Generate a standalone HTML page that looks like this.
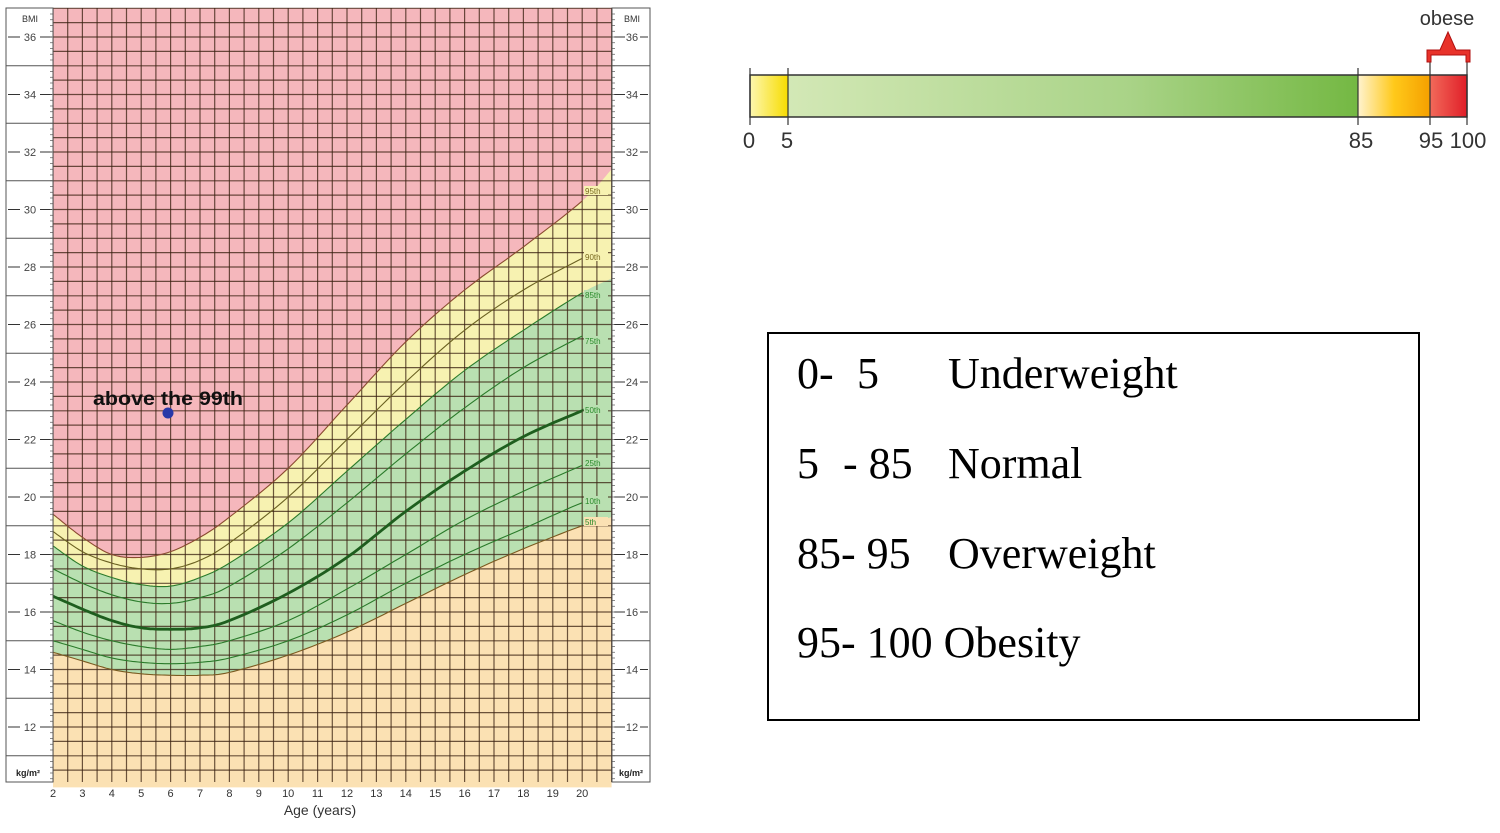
<!DOCTYPE html>
<html><head><meta charset="utf-8">
<style>
body{margin:0;background:#fff;width:1500px;height:833px;overflow:hidden;}
svg{position:absolute;left:0;top:0;}
</style></head>
<body>
<svg id="s" width="1500" height="833" viewBox="0 0 1500 833" xmlns="http://www.w3.org/2000/svg" font-family="Liberation Sans, sans-serif">
<defs>
<linearGradient id="gy" x1="0" x2="1"><stop offset="0" stop-color="#fdf7b0"/><stop offset="1" stop-color="#f7dc00"/></linearGradient>
<linearGradient id="gg" x1="0" x2="1"><stop offset="0" stop-color="#d3e8b6"/><stop offset="0.6" stop-color="#a9d387"/><stop offset="1" stop-color="#74b843"/></linearGradient>
<linearGradient id="go" x1="0" x2="1"><stop offset="0" stop-color="#fff3cf"/><stop offset="0.5" stop-color="#ffc91a"/><stop offset="1" stop-color="#f5a000"/></linearGradient>
<linearGradient id="gr" x1="0" x2="1"><stop offset="0" stop-color="#f26a5a"/><stop offset="1" stop-color="#e01e28"/></linearGradient>
</defs>
<g id="chart"></g>
<rect x="750" y="75" width="38" height="42" fill="url(#gy)"/>
<rect x="788" y="75" width="570" height="42" fill="url(#gg)"/>
<rect x="1358" y="75" width="72" height="42" fill="url(#go)"/>
<rect x="1430" y="75" width="37" height="42" fill="url(#gr)"/>
<rect x="750" y="75" width="717" height="42" fill="none" stroke="#333" stroke-width="1.5"/>
<g stroke="#333" stroke-width="1.2">
<line x1="750" y1="68" x2="750" y2="125"/><line x1="788" y1="68" x2="788" y2="125"/>
<line x1="1358" y1="68" x2="1358" y2="125"/><line x1="1430" y1="62" x2="1430" y2="125"/><line x1="1467" y1="62" x2="1467" y2="125"/>
</g>
<g font-size="22" fill="#333" text-anchor="middle">
<text x="749" y="148">0</text><text x="787" y="148">5</text><text x="1361" y="148">85</text><text x="1431" y="148">95</text><text x="1468" y="148">100</text>
<text x="1447" y="25" font-size="20">obese</text>
</g>
<path d="M1427,62 L1427,50 L1440,50 L1448,32 L1456,50 L1470,50 L1470,62 L1466,62 L1466,55 L1431,55 L1431,62 Z" fill="#e8322a" stroke="#b01010" stroke-width="1"/>
<rect x="768" y="333" width="651" height="387" fill="#fff" stroke="#000" stroke-width="2"/>
<g font-family="Liberation Serif, serif" font-size="44" fill="#000">
<text x="797" y="388">0-</text><text x="857" y="388">5</text><text x="948" y="388">Underweight</text>
<text x="797" y="478">5</text><text x="843" y="478">- 85</text><text x="948" y="478">Normal</text>
<text x="797" y="568">85- 95</text><text x="948" y="568">Overweight</text>
<text x="797" y="657">95- 100 Obesity</text>
</g>
</svg>
<script>
const g=document.getElementById('chart');
const X=a=>53+(a-2)*29.4, Y=b=>37+(36-b)*28.75;
const ages=[2,3,4,5,6,7,8,10,12,14,16,18,20,21];
const P={
p5:[14.6,14.3,14.0,13.85,13.8,13.8,13.9,14.5,15.3,16.3,17.3,18.2,19.0,19.3],
p10:[15.0,14.7,14.4,14.25,14.2,14.25,14.4,15.0,15.9,17.0,18.0,18.9,19.8,20.1],
p25:[15.7,15.3,15.0,14.8,14.7,14.8,15.0,15.7,16.8,18.0,19.2,20.2,21.1,21.5],
p50:[16.55,16.1,15.7,15.45,15.4,15.45,15.7,16.65,17.9,19.5,20.9,22.1,23.0,23.4],
p75:[17.5,17.0,16.6,16.35,16.3,16.5,16.9,18.2,19.8,21.5,23.1,24.5,25.6,26.1],
p85:[18.3,17.6,17.2,16.95,16.9,17.2,17.7,19.1,20.9,22.7,24.4,25.8,27.1,27.6],
p90:[18.8,18.1,17.7,17.5,17.5,17.8,18.4,20.0,22.0,24.0,25.8,27.2,28.3,28.8],
p95:[19.4,18.6,18.0,17.9,18.1,18.6,19.3,21.0,23.2,25.4,27.2,28.7,30.3,31.4]};
function pts(v){const o=[];for(let i=0;i<ages.length-1;i++){const p0=[ages[Math.max(i-1,0)],v[Math.max(i-1,0)]],p1=[ages[i],v[i]],p2=[ages[i+1],v[i+1]],p3=[ages[Math.min(i+2,ages.length-1)],v[Math.min(i+2,ages.length-1)]];
for(let t=0;t<1;t+=0.1){const t2=t*t,t3=t2*t;const f=(a,b,c,d)=>0.5*(2*b+(-a+c)*t+(2*a-5*b+4*c-d)*t2+(-a+3*b-3*c+d)*t3);o.push([X(f(p0[0],p1[0],p2[0],p3[0])),Y(f(p0[1],p1[1],p2[1],p3[1]))]);}}
o.push([X(21),Y(v[v.length-1])]);return o;}
const s=a=>a.map(p=>p[0].toFixed(1)+','+p[1].toFixed(1)).join(' ');
let h='';
h+=`<rect x="53" y="8" width="559" height="774" fill="#f5b7bc"/>`;
const pol=(top,bot,col)=>{const a=pts(top),b=pts(bot).reverse();return `<polygon points="${s(a)} ${s(b)}" fill="${col}"/>`;};
const low=P.p5.map(()=>9.9);
h+=pol(P.p95,P.p85,'#f7f2b1');
h+=pol(P.p85,P.p5,'#b9e0b1');
h+=pol(P.p5,low,'#fbe1b3');
let gl='';
for(let x=53;x<=613;x+=14.7)gl+=`<line x1="${x.toFixed(1)}" y1="8" x2="${x.toFixed(1)}" y2="782"/>`;
for(let b=37;b>=10;b-=0.5){const y=Y(b);if(y<8||y>782)continue;gl+=`<line x1="53" y1="${y.toFixed(1)}" x2="612" y2="${y.toFixed(1)}"/>`;}
h+=`<g stroke="#3a2010" stroke-opacity="0.75" stroke-width="1.2">${gl}</g>`;
const cc={p5:'#7a5a20',p10:'#2a7a2a',p25:'#2a7a2a',p50:'#1e5e1e',p75:'#2a7a2a',p85:'#2a7a2a',p90:'#6a6020',p95:'#8a4a30'};
for(const k in P){const a=pts(P[k]).filter(p=>p[0]<=X(20)+0.5);h+=`<polyline points="${s(a)}" fill="none" stroke="${cc[k]}" stroke-width="${k=='p50'?2.8:1.1}"/>`;}
const lab={p95:['95th',192],p90:['90th',258],p85:['85th',296],p75:['75th',342],p50:['50th',411],p25:['25th',464],p10:['10th',502],p5:['5th',523]};
for(const k in lab){h+=`<rect x="584" y="${lab[k][1]-6}" width="24" height="9" fill="${k=='p95'||k=='p90'?'#f7f2b1':k=='p5'?'#fbe1b3':'#b9e0b1'}"/><text x="585" y="${lab[k][1]+2}" font-size="8" fill="${k=='p95'||k=='p90'?'#7a6a20':'#2a8a2a'}">${lab[k][0]}</text>`;}
for(const [x0,w] of [[6,47],[612,38]]){h+=`<rect x="${x0}" y="8" width="${w}" height="774" fill="#fff" stroke="#555" stroke-width="1"/>`;
for(let b=35;b>=11;b-=2)h+=`<line x1="${x0}" x2="${x0+w}" y1="${Y(b)}" y2="${Y(b)}" stroke="#555"/>`;}
for(let b=36;b>=12;b-=2){const y=Y(b);
h+=`<line x1="8" x2="20" y1="${y}" y2="${y}" stroke="#333"/><line x1="40" x2="52" y1="${y}" y2="${y}" stroke="#333"/><text x="30" y="${y+4}" font-size="11" fill="#444" text-anchor="middle">${b}</text>`;
h+=`<line x1="614" x2="625" y1="${y}" y2="${y}" stroke="#333"/><line x1="640" x2="648" y1="${y}" y2="${y}" stroke="#333"/><text x="632" y="${y+4}" font-size="11" fill="#444" text-anchor="middle">${b}</text>`;}
for(let b=37;b>=10;b-=0.2){const y=Y(b);if(y<10||y>780)continue;h+=`<line x1="50" x2="53" y1="${y}" y2="${y}" stroke="#555" stroke-width="0.7"/><line x1="612" x2="615" y1="${y}" y2="${y}" stroke="#555" stroke-width="0.7"/>`;}
h+=`<text x="30" y="22" font-size="9" fill="#333" text-anchor="middle">BMI</text><text x="632" y="22" font-size="9" fill="#333" text-anchor="middle">BMI</text>`;
h+=`<text x="28" y="776" font-size="9" font-weight="bold" fill="#222" text-anchor="middle">kg/m²</text><text x="631" y="776" font-size="9" font-weight="bold" fill="#222" text-anchor="middle">kg/m²</text>`;
for(let a=2;a<=20;a++)h+=`<text x="${X(a)}" y="797" font-size="11" fill="#333" text-anchor="middle">${a}</text>`;
h+=`<text x="320" y="815" font-size="14" fill="#333" text-anchor="middle">Age (years)</text>`;
h+=`<text x="93" y="405" font-size="19" font-weight="bold" fill="#111" textLength="150" lengthAdjust="spacingAndGlyphs">above the 99th</text><circle cx="168" cy="413" r="5.5" fill="#2838a8"/>`;
g.innerHTML=h;
</script>
</body></html>
